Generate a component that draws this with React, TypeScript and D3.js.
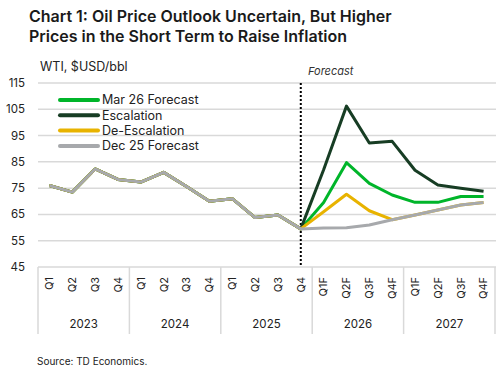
import React from 'react';
import * as d3 from 'd3';

const years = ['2023', '2024', '2025', '2026', '2027'];
const quarters = [
  'Q1', 'Q2', 'Q3', 'Q4', 'Q1', 'Q2', 'Q3', 'Q4', 'Q1', 'Q2', 'Q3', 'Q4',
  'Q1F', 'Q2F', 'Q3F', 'Q4F', 'Q1F', 'Q2F', 'Q3F', 'Q4F',
];
const history = [76, 73.5, 82.3, 78.3, 77.3, 81, 75.6, 70, 71, 63.8, 64.8, 59.5];
const mar26 = [69.5, 84.7, 76.8, 72.4, 69.6, 69.6, 71.8, 71.8];
const escalation = [82, 106.2, 92.2, 92.8, 81.8, 76.2, 75, 73.8];
const deEscalation = [66, 72.7, 66.4, 63, 64.8, 66.7, 68.6, 69.5];
const dec25 = [59.8, 59.9, 61, 63, 64.8, 66.7, 68.6, 69.5];
const yTicks = [45, 55, 65, 75, 85, 95, 105, 115];

const series = [
  { name: 'Mar 26 Forecast', color: '#00b52a', values: mar26 },
  { name: 'Escalation', color: '#173d24', values: escalation },
  { name: 'De-Escalation', color: '#e8b300', values: deEscalation },
  { name: 'Dec 25 Forecast', color: '#a7a9ac', values: dec25 },
];

const W = 496;
const H = 370;
const font = 'Inter, "DejaVu Sans", sans-serif';

export default function App() {
  const x = d3.scaleBand<number>().domain(d3.range(quarters.length)).range([38, 495]);
  const y = d3.scaleLinear().domain([45, 115]).range([267, 83]);
  const cx = (i: number) => (x(i) as number) + x.bandwidth() / 2;
  const line = d3.line<number>().x((_, i) => cx(i)).y((d) => y(d));
  const yearW = x.bandwidth() * 4;
  const fcX = cx(history.length - 1);

  return (
    <svg width={W} height={H} style={{ position: 'absolute', left: 0, top: 0, fontFamily: font }}>
      <rect width={W} height={H} fill="#fff" />
      <text x={29} y={22} fontSize={16} fontWeight={600} fill="#1a1a1a">
        Chart 1: Oil Price Outlook Uncertain, But Higher
      </text>
      <text x={29} y={42} fontSize={16} fontWeight={600} fill="#1a1a1a">
        Prices in the Short Term to Raise Inflation
      </text>
      <text x={40} y={71} fontSize={12.5} fill="#222">WTI, $USD/bbl</text>

      {yTicks.map((t) => (
        <g key={t}>
          <line x1={38} x2={W} y1={y(t)} y2={y(t)} stroke="#d9d9d9" strokeWidth={1.5} />
          <text x={25} y={y(t)} dy="0.35em" textAnchor="end" fontSize={11.5} fill="#222">{t}</text>
        </g>
      ))}

      {d3.range(years.length + 1).map((k) => (
        <line key={k} x1={38 + k * yearW} x2={38 + k * yearW} y1={267} y2={334} stroke="#d9d9d9" strokeWidth={1.5} />
      ))}
      {years.map((yr, k) => (
        <text key={yr} x={38 + (k + 0.5) * yearW} y={328} textAnchor="middle" fontSize={11.5} fill="#222">{yr}</text>
      ))}
      {quarters.map((q, i) => (
        <text key={i} transform={`translate(${cx(i)},277) rotate(-90)`} textAnchor="end" dy="0.35em" fontSize={11} fill="#222">{q}</text>
      ))}

      <line x1={fcX} x2={fcX} y1={83} y2={265} stroke="#000" strokeWidth={2} strokeDasharray="2,2" />
      <text x={308} y={75} fontSize={11} fontStyle="italic" fill="#333">Forecast</text>

      {series.map((s) => (
        <path key={s.name} d={line([...history, ...s.values]) || ''} fill="none" stroke={s.color} strokeWidth={3} strokeLinejoin="round" />
      ))}

      {series.map((s, i) => (
        <g key={s.name} transform={`translate(0,${100 + i * 15.3})`}>
          <line x1={60} x2={98} y1={0} y2={0} stroke={s.color} strokeWidth={4} strokeLinecap="round" />
          <text x={102} y={0} dy="0.35em" fontSize={12.5} fill="#222">{s.name}</text>
        </g>
      ))}

      <text x={37} y={365} fontSize={10} fill="#222">Source: TD Economics.</text>
    </svg>
  );
}
